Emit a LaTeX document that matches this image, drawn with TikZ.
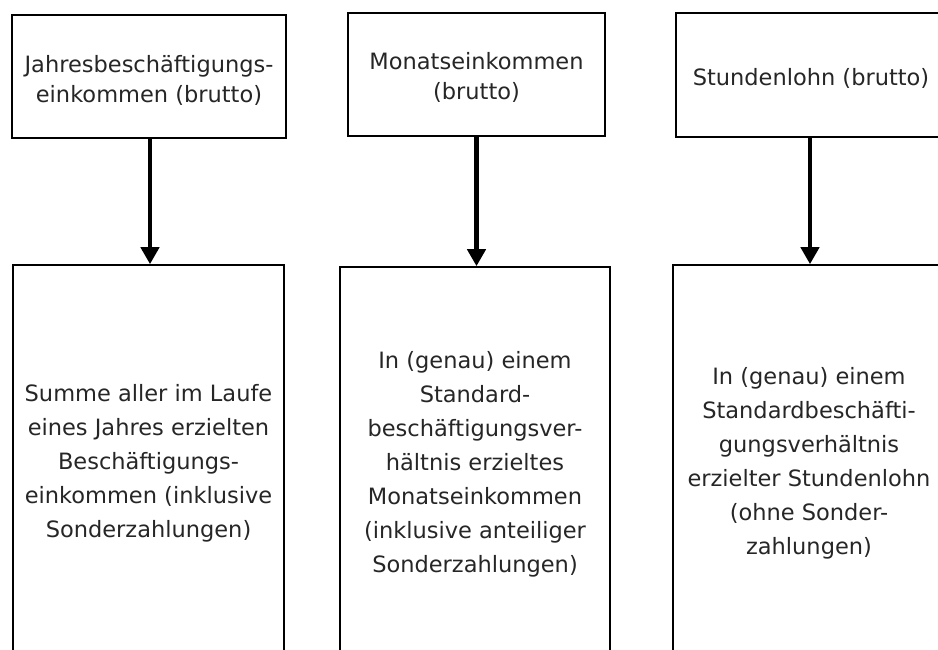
\documentclass[tikz,border=0pt]{standalone}
\usepackage{fontspec}
\setmainfont{DejaVu Sans}
\usetikzlibrary{arrows.meta}
\begin{document}
\begin{tikzpicture}[x=1pt,y=-1pt,
  box/.style={draw=black,line width=1.6pt,rectangle,align=center,inner sep=0pt,
    text=black!85},
  topbox/.style={box},
  toptext/.style={align=center,inner sep=0pt,text=black!85,font=\fontsize{22.5}{30}\selectfont},
  botbox/.style={box,font=\fontsize{22.5}{34}\selectfont},
  arr/.style={line width=4.7pt,-{Triangle[length=17pt,width=18pt]}}]
\useasboundingbox (0,0) rectangle (938,649);
\clip (0,0) rectangle (938,649);
\node[topbox,minimum width=274pt,minimum height=123pt] (T1) at (149,76.5) {};
\node[toptext] (T1t) at ([yshift=-4pt]T1.center) {Jahresbeschäftigungs-\\einkommen (brutto)};
\node[topbox,minimum width=257pt,minimum height=123pt] (T2) at (476.5,74.5) {};
\node[toptext] (T2t) at ([yshift=-3pt]T2.center) {Monatseinkommen\\(brutto)};
\node[topbox,minimum width=270pt,minimum height=124pt] (T3) at (811,75) {};
\node[toptext] (T3t) at ([yshift=-3pt]T3.center) {Stundenlohn (brutto)};
\node[botbox,minimum width=271pt,minimum height=396pt] (B1) at (148.5,463)
  {Summe aller im Laufe\\eines Jahres erzielten\\Beschäftigungs-\\einkommen (inklusive\\Sonderzahlungen)};
\node[botbox,minimum width=270pt,minimum height=394pt] (B2) at (475,464)
  {In (genau) einem\\Standard-\\beschäftigungsver-\\hältnis erzieltes\\Monatseinkommen\\(inklusive anteiliger\\Sonderzahlungen)};
\node[botbox,minimum width=272pt,minimum height=396pt] (B3) at (809,463)
  {In (genau) einem\\Standardbeschäfti-\\gungsverhältnis\\erzielter Stundenlohn\\(ohne Sonder-\\zahlungen)};
\draw[arr] ([xshift=1pt]T1.south) -- ([xshift=1pt]T1.south |- B1.north);
\draw[arr] (T2.south) -- (T2.south |- B2.north);
\draw[arr] ([xshift=-1pt]T3.south) -- ([xshift=-1pt]T3.south |- B3.north);
\end{tikzpicture}
\end{document}
